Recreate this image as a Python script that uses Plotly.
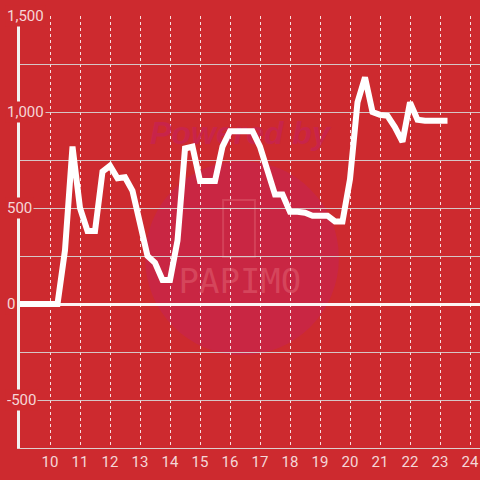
import plotly.graph_objects as go

# Data (hour of day -> value)
hours = [9.0, 9.25, 9.5, 9.75, 10.0, 10.25, 10.5, 10.75, 11.0, 11.25, 11.5, 11.75,
         12.0, 12.25, 12.5, 12.75, 13.0, 13.25, 13.5, 13.75, 14.0, 14.25, 14.5, 14.75,
         15.0, 15.25, 15.5, 15.75, 16.0, 16.25, 16.5, 16.75, 17.0, 17.25, 17.5, 17.75,
         18.0, 18.25, 18.5, 18.75, 19.0, 19.25, 19.5, 19.75, 20.0, 20.25, 20.5, 20.75,
         21.0, 21.25, 21.5, 21.75, 22.0, 22.25, 22.5, 22.75, 23.0, 23.25]
values = [0, 0, 0, 0, 0, 0, 280, 820, 500, 380, 380, 690,
          720, 655, 660, 590, 420, 250, 215, 125, 125, 330, 810, 820,
          640, 640, 640, 820, 900, 900, 900, 900, 820, 700, 570, 570,
          480, 480, 475, 460, 460, 460, 430, 430, 650, 1050, 1180, 1000,
          985, 980, 920, 845, 1050, 960, 955, 955, 955, 955]

x_ticks = [10, 11, 12, 13, 14, 15, 16, 17, 18, 19, 20, 21, 22, 23, 24]
y_ticks = [1500, 1000, 500, 0, -500]
y_tick_labels = ["1,500", "1,000", "500", "0", "-500"]

BG = "#cd2a2f"
LABEL = "rgba(255,255,255,0.82)"

fig = go.Figure()

# watermark text (under the line)
fig.add_trace(go.Scatter(x=[16.33], y=[875], mode="text", text=["<b><i>Powered by</i></b>"],
                         textfont=dict(size=32, color="rgba(200,36,80,0.85)", family="Liberation Sans"),
                         hoverinfo="skip", showlegend=False))
fig.add_trace(go.Scatter(x=[16.33], y=[100], mode="text", text=["PAPIMO"],
                         textfont=dict(size=34, color="rgba(225,100,115,0.5)", family="DejaVu Sans Mono"),
                         hoverinfo="skip", showlegend=False))

fig.add_trace(go.Scatter(x=hours, y=values, mode="lines",
                         line=dict(color="white", width=6),
                         hoverinfo="skip", showlegend=False))

# watermark circle and icon
fig.add_shape(type="circle", xref="x", yref="y", x0=13.17, x1=19.63, y0=-266, y1=745,
              fillcolor="rgba(200,38,72,0.8)", line=dict(width=0), layer="below")
fig.add_shape(type="rect", xref="x", yref="y", x0=15.77, x1=16.83, y0=245, y1=542,
              fillcolor="rgba(0,0,0,0)", line=dict(width=2, color="rgba(225,100,115,0.45)"), layer="below")

for v, t in zip(y_ticks, y_tick_labels):
    fig.add_annotation(x=0, xref="paper", y=v, yref="y", text=t, showarrow=False,
                       xanchor="left", xshift=-15, yanchor="middle",
                       font=dict(size=15, color=LABEL, family="Roboto"),
                       bgcolor=BG, borderpad=1)

fig.update_layout(
    width=480, height=480,
    margin=dict(l=20, r=0, t=16, b=32, autoexpand=False),
    paper_bgcolor=BG, plot_bgcolor=BG,
    xaxis=dict(range=[9, 24.3333], tickmode="array", tickvals=x_ticks, automargin=False,
               showgrid=True, gridcolor="rgba(255,255,255,0.85)", griddash="dot", gridwidth=1,
               zeroline=False, showline=True, linecolor="rgba(225,225,225,0.9)", linewidth=1,
               ticks="", tickfont=dict(size=15, color=LABEL, family="Roboto")),
    yaxis=dict(range=[-750, 1500], tickmode="array", automargin=False,
               tickvals=[-750, -500, -250, 0, 250, 500, 750, 1000, 1250, 1500],
               showticklabels=False, showgrid=True, gridcolor="rgba(215,215,215,0.9)", gridwidth=1,
               zeroline=True, zerolinecolor="rgba(255,255,255,0.95)", zerolinewidth=3,
               showline=True, linecolor="#f2f2f2", linewidth=3, ticks=""),
)

fig.write_html("out.html", config={"displayModeBar": False},
               post_script="document.body.style.margin='0';")
